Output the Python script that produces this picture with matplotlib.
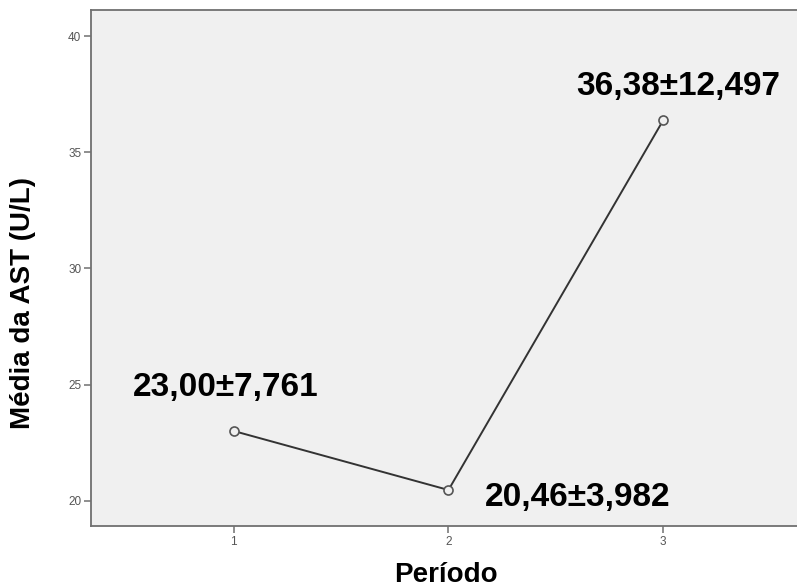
import matplotlib
matplotlib.use("Agg")
import matplotlib.pyplot as plt

periods = [1, 2, 3]
means = [23.00, 20.46, 36.38]
sds = [7.761, 3.982, 12.497]
xtick_labels = ["1", "2", "3"]
yticks = [20, 25, 30, 35, 40]

def fmt(v, d):
    return f"{v:.{d}f}".replace(".", ",")

labels = [f"{fmt(m, 2)}±{fmt(s, 3)}" for m, s in zip(means, sds)]
offsets_px = [(-8, 43), (129, -8), (15, 34)]

fig = plt.figure(figsize=(7.97, 5.87), dpi=100)
ax = fig.add_axes([91/797, 61/587, 1 - 91/797 + 0.002, (526-10)/587])
ax.set_facecolor("#F0F0F0")

ax.plot(periods, means, color="#333333", lw=1.4, marker="o", ms=6.5,
        mfc="#F0F0F0", mec="#555555", mew=1.2, zorder=3)

for x, y, lab, (dx, dy) in zip(periods, means, labels, offsets_px):
    ax.annotate(lab, (x, y), xytext=(dx * 0.72, dy * 0.72), textcoords="offset points",
                ha="center", va="center", fontsize=24, fontweight="bold",
                family="Liberation Sans", color="black")

ax.set_xlim(0.336, 3.63)
ax.set_ylim(18.91, 41.12)
ax.set_xticks(periods)
ax.set_xticklabels(xtick_labels)
ax.set_yticks(yticks)

for s in ["left", "bottom", "top"]:
    ax.spines[s].set_color("#707070")
    ax.spines[s].set_linewidth(1.3)
ax.spines["right"].set_visible(False)

ax.tick_params(axis="both", direction="out", length=5, width=1.1, color="#707070",
               labelsize=8.5, labelcolor="#555555", pad=2)
for lbl in ax.get_xticklabels() + ax.get_yticklabels():
    lbl.set_family("Liberation Sans")

fig.text(446/797, 1 - 575/587, "Período", fontsize=20, fontweight="bold",
         family="Liberation Sans", ha="center", va="center")
fig.text(23/797, 1 - 303/587, "Média da AST (U/L)", fontsize=20, fontweight="bold",
         family="Liberation Sans", ha="center", va="center", rotation=90)

fig.savefig("out.png", dpi=100)
